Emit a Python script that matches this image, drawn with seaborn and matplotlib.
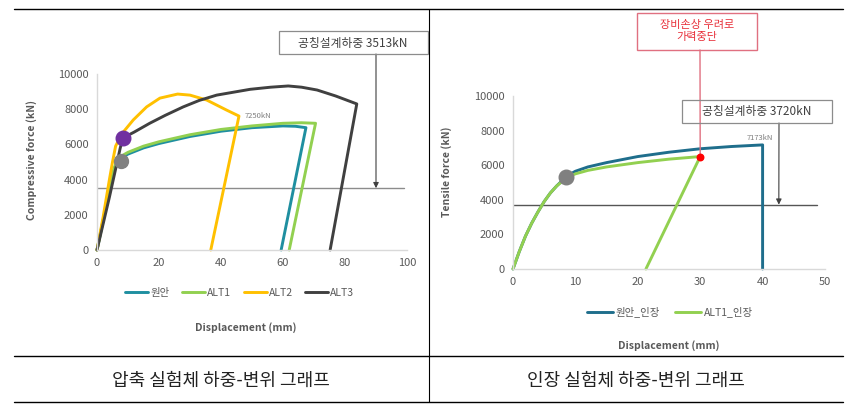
import numpy as np
import pandas as pd
import matplotlib
matplotlib.use("Agg")
import matplotlib.pyplot as plt
import seaborn as sns
from matplotlib.lines import Line2D

sns.set_theme(style="white")
plt.rcParams['font.family'] = ['Noto Sans CJK KR', 'DejaVu Sans']

# ---------------- data: compression test ----------------
c_orig_x = [0, 2, 4, 5.5, 6.5, 8, 10, 15, 20, 30, 40, 50, 60, 64, 67.4, 59.4]
c_orig_y = [0, 1700, 3400, 4600, 5050, 5250, 5450, 5800, 6050, 6450, 6750, 6950, 7050, 7030, 6950, 0]
c_alt1_x = [0, 2, 4, 5.5, 6.5, 8, 10, 15, 20, 30, 40, 50, 60, 66, 70.5, 62.0]
c_alt1_y = [0, 1700, 3400, 4600, 5100, 5350, 5550, 5900, 6150, 6550, 6850, 7050, 7200, 7230, 7200, 0]
c_alt2_x = [0, 2, 4, 5, 6, 8, 11.7, 16, 20.3, 26, 30, 35.4, 41.8, 45.8, 36.7]
c_alt2_y = [0, 1900, 4000, 5000, 5900, 6600, 7390, 8130, 8630, 8860, 8800, 8520, 7950, 7610, 0]
c_alt3_x = [0, 2, 4, 6, 7.5, 8.4, 12, 17, 22, 27.8, 33, 38.6, 49.4, 56, 61.7, 66, 71, 77, 83.8, 75.2]
c_alt3_y = [0, 1500, 3000, 4600, 5800, 6370, 6700, 7200, 7650, 8130, 8500, 8800, 9130, 9250, 9320, 9250, 9090, 8750, 8300, 0]
c_labels = ["원안", "ALT1", "ALT2", "ALT3"]
c_colors = ["#1f8fa0", "#92d050", "#ffc000", "#404040"]
c_design = 3513
c_marks_x = [8.4, 7.6]
c_marks_y = [6370, 5050]

# ---------------- data: tension test ----------------
t_orig_x = [0, 1, 2, 3, 4, 5, 6, 7, 8, 9, 10, 12, 15, 20, 25, 30, 35, 40, 40]
t_orig_y = [0, 1000, 1900, 2650, 3300, 3900, 4400, 4800, 5150, 5450, 5650, 5900, 6150, 6500, 6750, 6950, 7080, 7173, 0]
t_alt1_x = [0, 1, 2, 3, 4, 5, 6, 7, 8, 9, 10, 12, 15, 20, 25, 30, 21.3]
t_alt1_y = [0, 1000, 1900, 2650, 3300, 3900, 4400, 4800, 5100, 5350, 5500, 5700, 5900, 6150, 6350, 6500, 0]
t_labels = ["원안_인장", "ALT1_인장"]
t_colors = ["#1f6e8c", "#92d050"]
t_design = 3720
t_mark_x, t_mark_y = 8.5, 5300
t_stop_x, t_stop_y = 30, 6500

W, H = 865, 411
fig = plt.figure(figsize=(W / 100, H / 100), dpi=100)

def fx(px):
    return px / W

def fy(py):
    return 1 - py / H

grey_txt = "#595959"

def style_axes(ax, xmax, xticks):
    ax.set_xlim(0, xmax)
    ax.set_ylim(0, 10000)
    ax.set_xticks(xticks)
    ax.set_yticks(range(0, 10001, 2000))
    for s in ["top", "right"]:
        ax.spines[s].set_visible(False)
    for s in ["left", "bottom"]:
        ax.spines[s].set_color("#d9d9d9")
        ax.spines[s].set_linewidth(1.0)
    ax.tick_params(axis="both", length=0, labelsize=8, colors=grey_txt, pad=6)
    ax.set_facecolor("white")

# ---------------- left chart ----------------
axL = fig.add_axes([fx(97), fy(250), fx(407) - fx(97), fy(74) - fy(250)])
frames = []
for lab, xs, ys in zip(c_labels, [c_orig_x, c_alt1_x, c_alt2_x, c_alt3_x],
                       [c_orig_y, c_alt1_y, c_alt2_y, c_alt3_y]):
    frames.append(pd.DataFrame({"x": xs, "y": ys, "s": lab}))
dfc = pd.concat(frames, ignore_index=True)
sns.lineplot(data=dfc, x="x", y="y", hue="s", hue_order=c_labels,
             palette=dict(zip(c_labels, c_colors)), sort=False, estimator=None,
             units="s", linewidth=2.1, ax=axL, legend=False, clip_on=False)
axL.axhline(c_design, xmin=0, xmax=0.99, color="#8c8c8c", lw=1.0, zorder=1)
axL.scatter([c_marks_x[0]], [c_marks_y[0]], s=110, color="#7030a0", zorder=5)
axL.scatter([c_marks_x[1]], [c_marks_y[1]], s=100, color="#808080", zorder=5)
axL.text(52, 7620, "7250kN", fontsize=5.5, color="#7f7f7f", ha="center", va="center")
style_axes(axL, 100, range(0, 101, 20))
axL.set_xlabel("Displacement (mm)", fontsize=7.5, color=grey_txt, fontweight="bold")
axL.set_ylabel("Compressive force (kN)", fontsize=7.5, color=grey_txt, fontweight="bold")
axL.xaxis.set_label_coords(0.48, -0.41)
axL.yaxis.set_label_coords(-0.194, 0.51)
hL = [Line2D([0], [0], color=c, lw=2.1) for c in c_colors]
axL.legend(hL, c_labels, loc="center", bbox_to_anchor=(0.461, -0.244), ncol=4,
           frameon=False, fontsize=7.5, handlelength=2.2, handletextpad=0.2,
           columnspacing=1.2, labelcolor=grey_txt)

# ---------------- right chart ----------------
axR = fig.add_axes([fx(513), fy(269), fx(825) - fx(513), fy(96) - fy(269)])
dft = pd.concat([
    pd.DataFrame({"x": t_orig_x, "y": t_orig_y, "s": t_labels[0]}),
    pd.DataFrame({"x": t_alt1_x, "y": t_alt1_y, "s": t_labels[1]}),
], ignore_index=True)
sns.lineplot(data=dft, x="x", y="y", hue="s", hue_order=t_labels,
             palette=dict(zip(t_labels, t_colors)), sort=False, estimator=None,
             units="s", linewidth=2.1, ax=axR, legend=False, clip_on=False)
axR.axhline(t_design, xmin=0, xmax=0.975, color="#555555", lw=1.0, zorder=1)
axR.scatter([t_mark_x], [t_mark_y], s=110, color="#808080", zorder=5)
axR.scatter([t_stop_x], [t_stop_y], s=22, color="#ff0000", zorder=6)
axR.text(39.5, 7600, "7173kN", fontsize=5.5, color="#7f7f7f", ha="center", va="center")
style_axes(axR, 50, range(0, 51, 10))
axR.set_xlabel("Displacement (mm)", fontsize=7.5, color=grey_txt, fontweight="bold")
axR.set_ylabel("Tensile force (kN)", fontsize=7.5, color=grey_txt, fontweight="bold")
axR.xaxis.set_label_coords(0.5, -0.41)
axR.yaxis.set_label_coords(-0.196, 0.56)
hR = [Line2D([0], [0], color=c, lw=2.1) for c in t_colors]
axR.legend(hR, t_labels, loc="center", bbox_to_anchor=(0.503, -0.249), ncol=2,
           frameon=False, fontsize=7.5, handlelength=2.5, handletextpad=0.2,
           columnspacing=1.5, labelcolor=grey_txt)

# ---------------- annotations ----------------
fig.text(fx(353), fy(43), "공칭설계하중 3513kN", fontsize=8.5, color="#404040",
         ha="center", va="center")
fig.add_artist(plt.Rectangle((fx(279), fy(54)), fx(428) - fx(279), fy(31) - fy(54),
                             transform=fig.transFigure, fill=False, ec="#8c8c8c", lw=0.9))
axL.annotate("", xy=(90, c_design), xycoords="data",
             xytext=(fx(376), fy(54)), textcoords="figure fraction",
             arrowprops=dict(arrowstyle="-|>", color="#404040", lw=0.8, mutation_scale=8,
                             shrinkA=0, shrinkB=0))

fig.text(fx(757), fy(112), "공칭설계하중 3720kN", fontsize=8.5, color="#404040",
         ha="center", va="center")
fig.add_artist(plt.Rectangle((fx(682), fy(123)), fx(832) - fx(682), fy(100) - fy(123),
                             transform=fig.transFigure, fill=False, ec="#8c8c8c", lw=0.9))
axR.annotate("", xy=(42.6, t_design), xycoords="data",
             xytext=(fx(779), fy(123)), textcoords="figure fraction",
             arrowprops=dict(arrowstyle="-|>", color="#404040", lw=0.8, mutation_scale=8,
                             shrinkA=0, shrinkB=0))

fig.text(fx(697), fy(31), "장비손상 우려로\n가력중단", fontsize=8, color="#e8303a",
         ha="center", va="center", linespacing=1.15, fontweight="medium")
fig.add_artist(plt.Rectangle((fx(637), fy(50)), fx(757) - fx(637), fy(13) - fy(50),
                             transform=fig.transFigure, fill=False, ec="#e07080", lw=1.0))
axR.annotate("", xy=(t_stop_x, t_stop_y), xycoords="data",
             xytext=(fx(700), fy(50)), textcoords="figure fraction",
             arrowprops=dict(arrowstyle="-", color="#e07080", lw=1.0,
                             shrinkA=0, shrinkB=0))

# ---------------- table frame ----------------
for py in (9, 356, 402):
    fig.add_artist(Line2D([fx(14), fx(843)], [fy(py), fy(py)], transform=fig.transFigure,
                          color="black", lw=1.0))
fig.add_artist(Line2D([fx(428.5), fx(428.5)], [fy(9), fy(402)], transform=fig.transFigure,
                      color="black", lw=0.8))
fig.text(fx(221), fy(381), "압축 실험체 하중-변위 그래프", fontsize=13, color="#222222",
         ha="center", va="center", fontweight="light")
fig.text(fx(636), fy(381), "인장 실험체 하중-변위 그래프", fontsize=13, color="#222222",
         ha="center", va="center", fontweight="light")

fig.savefig("out.png", dpi=100, facecolor="white")
